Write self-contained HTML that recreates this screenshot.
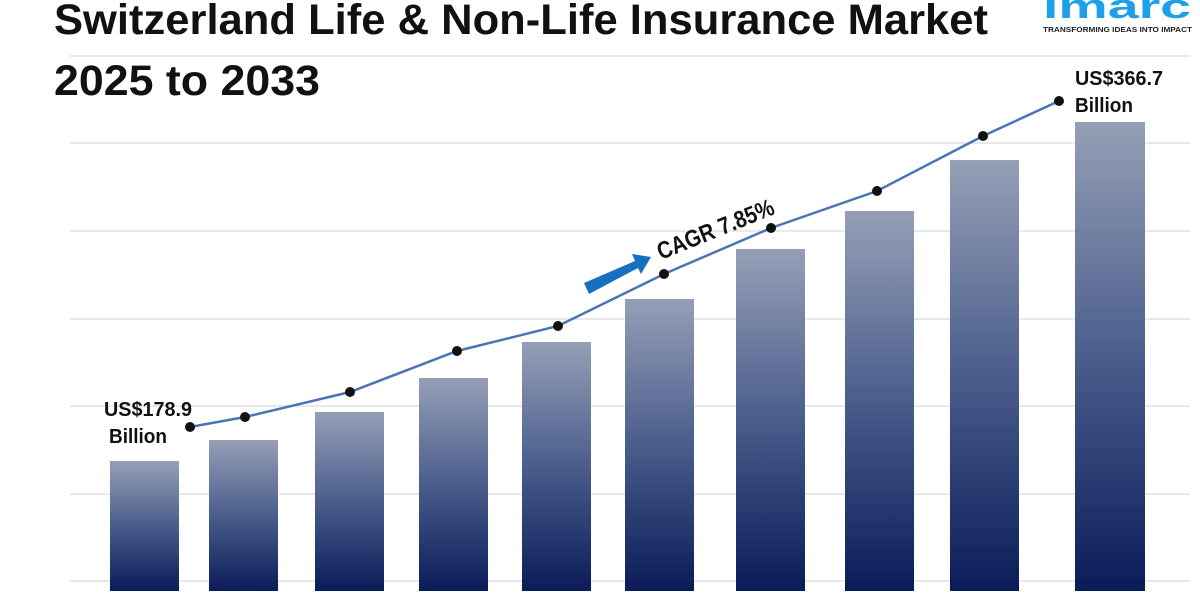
<!DOCTYPE html>
<html><head><meta charset="utf-8"><style>html,body{margin:0;padding:0;background:#fff}svg{display:block}</style></head>
<body>
<svg width="1200" height="600" viewBox="0 0 1200 600" xmlns="http://www.w3.org/2000/svg" font-family="Liberation Sans, sans-serif">
<defs>
<linearGradient id="g" x1="0" y1="0" x2="0" y2="1">
<stop offset="0" stop-color="#959fb6"/>
<stop offset="0.5" stop-color="#4a5d8c"/>
<stop offset="1" stop-color="#0a1c58"/>
</linearGradient>
</defs>
<g stroke="#dcdcdc" stroke-width="1.2">
<line x1="70" y1="56" x2="1190" y2="56"/>
<line x1="70" y1="143" x2="1190" y2="143"/>
<line x1="70" y1="231" x2="1190" y2="231"/>
<line x1="70" y1="319" x2="1190" y2="319"/>
<line x1="70" y1="406" x2="1190" y2="406"/>
<line x1="70" y1="494" x2="1190" y2="494"/>
<line x1="70" y1="581" x2="1190" y2="581"/>
</g>
<g fill="url(#g)">
<rect x="110" y="461" width="69" height="130"/>
<rect x="209" y="440" width="69" height="151"/>
<rect x="315" y="412" width="69" height="179"/>
<rect x="419" y="378" width="69" height="213"/>
<rect x="522" y="342" width="69" height="249"/>
<rect x="625" y="299" width="69" height="292"/>
<rect x="736" y="249" width="69" height="342"/>
<rect x="845" y="211" width="69" height="380"/>
<rect x="950" y="160" width="69" height="431"/>
<rect x="1075" y="122" width="70" height="469"/>
</g>
<polyline fill="none" stroke="#4a73b8" stroke-width="2.5" points="190,427 245,417 350,392 457,351 558,326 664,274 771,228 877,191 983,136 1059,101"/>
<g fill="#111">
<circle cx="190" cy="427" r="5"/><circle cx="245" cy="417" r="5"/><circle cx="350" cy="392" r="5"/><circle cx="457" cy="351" r="5"/><circle cx="558" cy="326" r="5"/><circle cx="664" cy="274" r="5"/><circle cx="771" cy="228" r="5"/><circle cx="877" cy="191" r="5"/><circle cx="983" cy="136" r="5"/><circle cx="1059" cy="101" r="5"/>
</g>
<polygon fill="#1670c0" points="584,283 635,261 632,254 651,257 641,274 638,268 589,294"/>
<text transform="translate(661,260) rotate(-22)" font-size="24" font-weight="bold" fill="#111" textLength="124" lengthAdjust="spacingAndGlyphs">CAGR 7.85%</text>
<text x="54" y="34" font-size="43" font-weight="bold" fill="#111" textLength="934" lengthAdjust="spacingAndGlyphs">Switzerland Life &amp; Non-Life Insurance Market</text>
<text x="54" y="95" font-size="43" font-weight="bold" fill="#111" textLength="266" lengthAdjust="spacingAndGlyphs">2025 to 2033</text>
<text x="104" y="416" font-size="20" font-weight="bold" fill="#111" textLength="88" lengthAdjust="spacingAndGlyphs">US$178.9</text>
<text x="109" y="443" font-size="20" font-weight="bold" fill="#111" textLength="58" lengthAdjust="spacingAndGlyphs">Billion</text>
<text x="1075" y="85" font-size="20" font-weight="bold" fill="#111" textLength="88" lengthAdjust="spacingAndGlyphs">US$366.7</text>
<text x="1075" y="112" font-size="20" font-weight="bold" fill="#111" textLength="58" lengthAdjust="spacingAndGlyphs">Billion</text>
<text x="1043" y="18" font-size="34" font-weight="bold" fill="#1ea0e8" textLength="148" lengthAdjust="spacingAndGlyphs">imarc</text>
<text x="1043" y="32" font-size="7.5" font-weight="bold" fill="#222" textLength="149" lengthAdjust="spacingAndGlyphs">TRANSFORMING IDEAS INTO IMPACT</text>
</svg>
</body></html>
